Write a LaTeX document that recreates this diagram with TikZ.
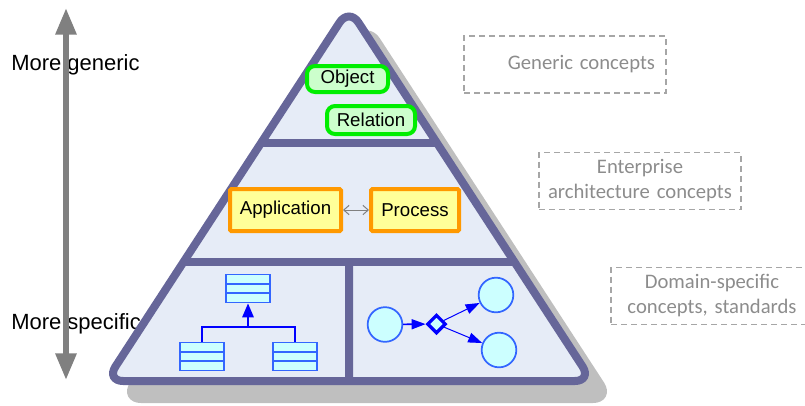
\documentclass[tikz,border=0pt]{standalone}
\usepackage{fontspec}
\setmainfont{Liberation Sans}
\newfontfamily\notefont{Carlito}
\usetikzlibrary{
	arrows.meta,
	calc,
	positioning,
	shapes.geometric
}
\definecolor{PyramidLine}{RGB}{102,102,153}
\definecolor{PyramidFill}{RGB}{230,236,247}
\definecolor{ShadowGray}{RGB}{191,191,191}
\definecolor{ObjGreen}{RGB}{0,238,0}
\definecolor{ObjFill}{RGB}{204,255,204}
\definecolor{AppOrange}{RGB}{255,153,0}
\definecolor{AppFill}{RGB}{255,255,153}
\definecolor{UmlBlue}{RGB}{51,102,255}
\definecolor{UmlFill}{RGB}{204,255,255}
\definecolor{NoteGray}{RGB}{140,140,140}
\definecolor{NoteLine}{RGB}{166,166,166}

\begin{document}
\begin{tikzpicture}[x=0.75pt, y=-0.75pt,
	obj/.style={draw=ObjGreen, fill=ObjFill, line width=3pt, rounded corners=6pt, inner sep=0pt, font=\fontsize{14pt}{16pt}\selectfont},
	app/.style={draw=AppOrange, fill=AppFill, line width=3pt, rounded corners=1pt, inner sep=0pt, minimum height=31.5pt, font=\fontsize{14pt}{16pt}\selectfont},
	umlclass/.style={draw=UmlBlue, fill=UmlFill, line width=1.3pt, minimum width=33pt, minimum height=21pt, inner sep=0pt,
		path picture={
			\draw[UmlBlue, line width=1.3pt]
				($(path picture bounding box.north west)!0.333!(path picture bounding box.south west)$) --
				($(path picture bounding box.north east)!0.333!(path picture bounding box.south east)$)
				($(path picture bounding box.north west)!0.667!(path picture bounding box.south west)$) --
				($(path picture bounding box.north east)!0.667!(path picture bounding box.south east)$);
		}},
	actnode/.style={circle, draw=UmlBlue, fill=UmlFill, line width=1.3pt, minimum size=26pt, inner sep=0pt},
	decision/.style={diamond, draw=blue, fill=UmlFill, line width=2.5pt, minimum width=14pt, minimum height=14pt, inner sep=0pt},
	flow/.style={blue, -{Triangle[length=10.5pt,width=7.5pt]}},
	note/.style={draw=NoteLine, dash pattern=on 4.5pt off 3pt, line width=0.9pt, text=NoteGray, font=\notefont\fontsize{15.5pt}{18.75pt}\selectfont, text width=147.5pt, inner xsep=2pt, minimum height=42.75pt},
	side/.style={anchor=west, inner sep=0pt, font=\fontsize{16.5pt}{18pt}\selectfont}
]
	\useasboundingbox (0,0) rectangle (805,405);

	% 左侧标注与双向箭头
	\node[side] (generic) at (11,65) {More generic};
	\node[side] (specific) at (11,324) {More specific};
	\coordinate (top) at (66,8);
	\coordinate (bottom) at (66,380);
	\draw[gray, line width=4.5pt, {Triangle[length=20pt,width=15pt]}-{Triangle[length=20pt,width=15pt]}] (top) -- (bottom);

	% 金字塔
	\coordinate (apex) at (349,8);
	\coordinate (bl) at (106,381);
	\coordinate (br) at (592,381);
	\filldraw[ShadowGray, line width=6pt, rounded corners=13pt]
		([shift={(18,18)}]apex) -- ([shift={(18,18)}]br) -- ([shift={(18,18)}]bl) -- cycle;
	\filldraw[draw=PyramidLine, fill=PyramidFill, line width=6pt, rounded corners=13pt]
		(apex) -- (br) -- (bl) -- cycle;

	% 分层线
	\coordinate (d1l) at ($(apex)!0.3606!(bl)$);
	\coordinate (d1r) at ($(apex)!0.3606!(br)$);
	\coordinate (d2l) at ($(apex)!0.6796!(bl)$);
	\coordinate (d2r) at ($(apex)!0.6796!(br)$);
	\draw[PyramidLine, line width=6pt] (d1l) -- (d1r);
	\draw[PyramidLine, line width=6pt] (d2l) -- (d2r);
	\draw[PyramidLine, line width=6pt] ($(d2l)!0.5!(d2r)$) -- ($(bl)!0.5!(br)$);

	% 顶层
	\node[obj, minimum width=60.75pt, minimum height=19.5pt] (object) at (347.5,79) {Object};
	\node[obj, minimum width=66pt, minimum height=21pt] (relation) at (371,120) {Relation};

	% 中间层
	\node[app, minimum width=83.25pt] (application) at (285.5,210) {Application};
	\node[app, minimum width=66pt] (process) at (415,210) {Process};
	\draw[gray, line width=0.75pt, {Straight Barb[length=4pt,width=7pt]}-{Straight Barb[length=4pt,width=7pt]}] (application) -- (process);

	% 底层左：类图
	\node[umlclass] (super) at (248,288.5) {};
	\node[umlclass] (subl) at (202,356.5) {};
	\node[umlclass] (subr) at (295,356.5) {};
	\coordinate (joint) at (248,327);
	\draw[blue, line width=1.5pt] (subl.north) |- (joint) -| (subr.north);
	\draw[blue, line width=1.5pt, -{Triangle[length=10.5pt,width=8.5pt]}] (joint) -- (super.south);

	% 底层右：流程
	\node[actnode] (start) at (385,324.5) {};
	\node[decision] (fork) at (436.5,324) {};
	\node[actnode] (upper) at (496,295) {};
	\node[actnode] (lower) at (499,350) {};
	\draw[flow, line width=1.2pt] (start) -- (fork);
	\draw[flow, line width=0.75pt] (fork) -- (upper);
	\draw[flow, line width=0.75pt] (fork) -- (lower);

	% 右侧说明框
	\node[note, text width=135pt, inner xsep=8.25pt, align=right] (genericnote) at (565,64.5) {Generic concepts};
	\node[note, align=center] (eanote) at (640,181) {Enterprise\\architecture concepts};
	\node[note, align=center] (domainnote) at (712,296) {Domain-specific\\concepts, standards};
\end{tikzpicture}
\end{document}
